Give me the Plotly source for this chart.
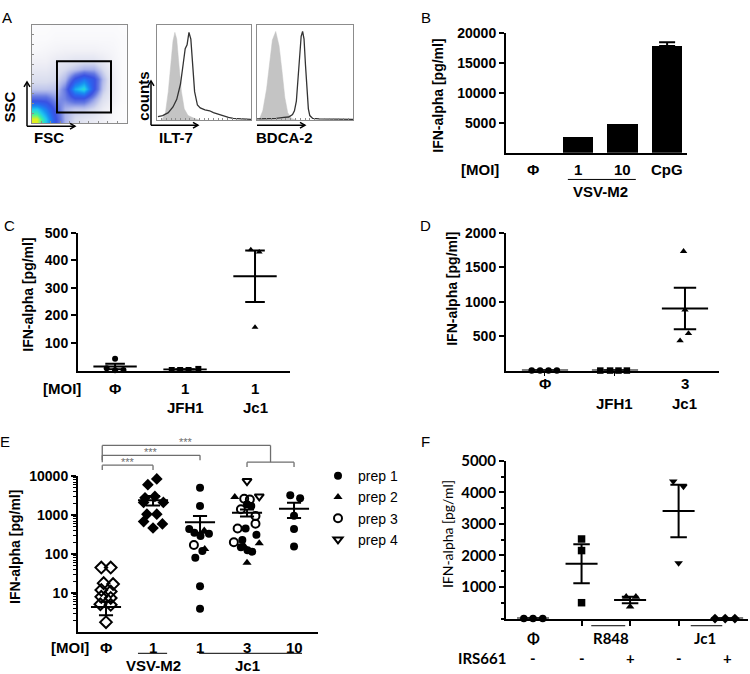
import plotly.graph_objects as go

W, H = 750, 674
FONT = "Liberation Sans"
FONT_F = "Lato"

def fx(p):
    return p / W

def fy(p):
    return 1 - p / H

def dom_x(a, b):
    return [a / W, b / W]

def dom_y(top, bottom):
    return [1 - bottom / H, 1 - top / H]

# ---------------- DATA ----------------
# Panel A: FSC/SSC density (rows bottom->top), gate, histograms (% of max)
dens_x = [0.5, 1.5, 2.5, 3.5, 4.5, 5.5, 6.5, 7.5, 8.5, 9.5]
dens_y = [0.5, 1.5, 2.5, 3.5, 4.5, 5.5, 6.5, 7.5, 8.5, 9.5]
dens_z = [
    [10, 8, 5, 3, 2, 1.6, 1.3, 1, 0.6, 0.4],
    [8, 6.5, 4.5, 3, 2.5, 2.5, 2, 1.2, 0.7, 0.4],
    [4.5, 4.5, 3.5, 3.8, 4.8, 4.8, 3.3, 1.8, 1, 0.5],
    [2.5, 2.5, 2.6, 4, 7.5, 8.5, 5.2, 2.5, 1.1, 0.5],
    [1.8, 1.8, 2, 2.8, 5.2, 6.3, 5.2, 2.8, 1.1, 0.5],
    [1.3, 1.3, 1.6, 2, 2.5, 3, 3, 2, 1, 0.5],
    [0.9, 0.9, 1.2, 1.3, 1.5, 1.5, 1.5, 1.2, 0.8, 0.5],
    [0.6, 0.7, 0.8, 0.9, 0.9, 0.9, 0.9, 0.8, 0.7, 0.5],
    [0.5, 0.5, 0.6, 0.6, 0.6, 0.6, 0.6, 0.6, 0.6, 0.5],
    [0.4, 0.4, 0.5, 0.5, 0.5, 0.5, 0.5, 0.5, 0.5, 0.4],
]
gate_x = [2.66, 8.35]
gate_y = [1.1, 6.3]

ilt7_iso_x = [5, 9, 12, 15, 17, 19, 21, 23, 26, 29, 33, 40, 46]
ilt7_iso_y = [0, 8, 30, 62, 83, 92, 85, 62, 30, 12, 5, 2, 0]
ilt7_x = [1, 6, 12, 17, 21, 25, 28, 30, 32, 34, 36, 38, 40, 43, 46, 51, 56, 60, 66, 70, 76, 81, 88, 96, 100]
ilt7_y = [4, 5, 8, 14, 22, 38, 60, 75, 79, 92, 85, 60, 30, 16, 13, 11, 10, 8, 6, 5, 3, 2, 1.5, 1, 1]
bdca2_iso_x = [2, 6, 10, 13, 16, 19.5, 23, 26, 29, 32, 36, 42]
bdca2_iso_y = [0, 10, 33, 60, 84, 93, 78, 52, 24, 8, 2, 0]
bdca2_x = [0, 10, 20, 28, 33, 37, 39, 41, 43, 44.5, 46, 47.5, 49, 50.5, 52, 53.5, 55, 58, 65, 80, 100]
bdca2_y = [1.5, 1.5, 2, 3, 3.5, 6, 10, 20, 45, 70, 88, 93, 85, 58, 30, 12, 5, 2, 1.5, 1, 1]

# Panel B
b_labels = ["Φ", "1", "10", "CpG"]
b_values = [0, 2750, 4900, 17800]
b_err = [0, 0, 0, 600]
b_yticks = [5000, 10000, 15000, 20000]

# Panel C (MOI 1)
c_labels = ["Φ", "1", "1"]
c_groups = ["", "JFH1", "Jc1"]
c_off = [[0, -0.12, 0, 0.12], [-0.19, -0.07, 0.05, 0.19], [-0.06, 0.06, 0]]
c_val = [[43, 8, 1, 2], [2, 2, 2, 6], [438, 430, 157]]
c_sym = ["circle", "square", "triangle-up"]
c_mean = [15, 3.5, 342]
c_sem = [10, 1.2, 93]
c_yticks = [100, 200, 300, 400, 500]

# Panel D (MOI 3)
d_labels = ["Φ", "", "3"]
d_groups = ["", "JFH1", "Jc1"]
d_off = [[-0.19, -0.07, 0.05, 0.17], [-0.21, -0.07, 0.05, 0.17], [-0.02, 0, 0.05, -0.07]]
d_val = [[0, 0, 0, 0], [0, 0, 0, 0], [1730, 880, 538, 433]]
d_sym = ["circle", "square", "triangle-up"]
d_mean = [0, 0, 900]
d_sem = [0, 0, 300]
d_yticks = [500, 1000, 1500, 2000]

# Panel E (log)
e_labels = ["Φ", "1", "1", "3", "10"]
e_mock_off = [-0.1, 0.1, -0.05, 0.15, -0.1, 0.1, -0.1, 0.1, -0.12, 0.1, 0]
e_mock_val = [45, 45, 18, 17, 12, 11, 8, 7.5, 5.2, 5, 1.8]
e_vsv_off = [-0.11, 0.08, -0.17, 0.04, -0.2, 0.22, -0.13, 0.08, -0.2, 0.2, 0]
e_vsv_val = [6000, 8400, 2750, 3000, 2100, 2100, 1050, 1050, 680, 590, 465]
# Jc1 points: group index, offset, value, prep number
e_jc1_grp = [2, 2, 2, 2, 2, 2, 2, 2, 2, 2, 2, 2, 2,
             3, 3, 3, 3, 3, 3, 3, 3, 3, 3, 3, 3, 3, 3, 3, 3, 3, 3, 3, 3, 3,
             4, 4, 4, 4, 4]
e_jc1_off = [0, 0, -0.23, -0.12, 0.09, 0.19, 0.01, -0.13, 0.1, 0.05, -0.1, 0, 0,
             0, -0.26, -0.06, 0.06, 0.26, 0, 0.09, -0.13, 0.18, -0.2, -0.03, 0.18, 0.2, -0.28, -0.1, 0.26, -0.13, -0.06, 0.01, 0.11, 0,
             -0.08, 0.13, 0, 0, 0]
e_jc1_val = [5000, 1700, 440, 350, 400, 330, 290, 170, 135, 120, 80, 15, 4,
             7400, 2900, 2600, 2500, 3000, 1900, 1700, 1400, 950, 450, 450, 600, 310, 200, 230, 190, 150, 160, 125, 115, 60,
             3200, 2700, 960, 440, 155]
e_jc1_prep = [1, 1, 1, 1, 2, 1, 1, 3, 2, 1, 1, 1, 1,
              4, 2, 3, 3, 4, 1, 1, 3, 3, 3, 1, 3, 1, 3, 1, 2, 1, 2, 1, 1, 2,
              1, 1, 1, 1, 1]
e_mean = [4.4, 2400, 650, 1150, 1450]
e_sem = [1.7, 650, 300, 230, 610]
e_yticks = [10, 100, 1000, 10000]
prep_names = ["prep 1", "prep 2", "prep 3", "prep 4"]
prep_symbols = ["circle", "triangle-up", "circle-open", "triangle-down-open"]

# Panel F
f_labels = ["-", "-", "+", "-", "+"]
f_off = [[-0.19, 0, 0.2], [0, 0, 0], [-0.08, 0.12, 0], [-0.11, 0.1, 0], [-0.25, -0.04, 0.16]]
f_val = [[0, 0, 0], [2523, 2156, 502], [690, 690, 377], [4353, 4186, 1758], [0, 0, 0]]
f_sym = ["circle", "square", "triangle-up", "triangle-down", "diamond"]
f_mean = [0, 1740, 590, 3410, 0]
f_sem = [0, 620, 105, 830, 0]
f_yticks = [1000, 2000, 3000, 4000, 5000]

# ---------------- FIGURE ----------------
fig = go.Figure()
shapes = []
ann = []

def mean_sem(centers, means, sems, mw, cw, xa, ya):
    xs, ys = [], []
    for c, m, s in zip(centers, means, sems):
        xs += [c - mw, c + mw, None, c, c, None, c - cw, c + cw, None, c - cw, c + cw, None]
        ys += [m, m, None, m - s, m + s, None, m + s, m + s, None, m - s, m - s, None]
    return go.Scatter(x=xs, y=ys, mode="lines", line=dict(color="black", width=2),
                      xaxis=xa, yaxis=ya, showlegend=False, hoverinfo="skip", cliponaxis=False)

def text(x, y, s, xref="paper", size=14, bold=True, angle=0, family=FONT, color="black", xanchor="center"):
    ann.append(dict(x=x, y=y, xref=xref, yref="paper", text=s, showarrow=False, textangle=angle,
                    xanchor=xanchor, yanchor="middle",
                    font=dict(family=family, size=size, color=color, weight="bold" if bold else "normal")))

def pline(x0, y0, x1, y1, xref="paper", color="black", width=1.5):
    shapes.append(dict(type="line", xref=xref, yref="paper", x0=x0, y0=y0, x1=x1, y1=y1,
                       line=dict(color=color, width=width)))

def arrow(x0, y0, x1, y1):
    pline(fx(x0), fy(y0), fx(x1), fy(y1), width=1.5)
    if x0 == x1:
        pts = [(x1 - 3, y1 + 5), (x1, y1), (x1 + 3, y1 + 5)]
    else:
        pts = [(x1 - 5, y1 - 3), (x1, y1), (x1 - 5, y1 + 3)]
    path = "M {} {} L {} {} L {} {}".format(fx(pts[0][0]), fy(pts[0][1]), fx(pts[1][0]), fy(pts[1][1]),
                                            fx(pts[2][0]), fy(pts[2][1]))
    shapes.append(dict(type="path", xref="paper", yref="paper", path=path, line=dict(color="black", width=1.5)))

# ---- Panel A ----
colorscale = [[0, "#ffffff"], [0.05, "#fafafc"], [0.1, "#f0f0f6"], [0.2, "#d8dcee"], [0.3, "#a8b2ea"],
              [0.4, "#6478e2"], [0.5, "#3a52e2"], [0.6, "#2a66f0"], [0.7, "#1890f0"], [0.8, "#20c8f0"],
              [0.9, "#40f0a0"], [1, "#e0f020"]]
fig.add_trace(go.Heatmap(x=dens_x, y=dens_y, z=dens_z, zmin=0, zmax=10, zsmooth="best",
                         colorscale=colorscale, showscale=False, xaxis="x", yaxis="y", hoverinfo="skip"))
shapes.append(dict(type="rect", xref="x", yref="y", x0=gate_x[0], x1=gate_x[1], y0=gate_y[0], y1=gate_y[1],
                   line=dict(color="black", width=2)))
fig.add_trace(go.Scatter(x=ilt7_iso_x, y=ilt7_iso_y, mode="lines", fill="tozeroy", fillcolor="#c4c4c4",
                         line=dict(color="#c4c4c4", width=0.5), xaxis="x2", yaxis="y2", showlegend=False))
fig.add_trace(go.Scatter(x=ilt7_x, y=ilt7_y, mode="lines", line=dict(color="#333333", width=1.3),
                         xaxis="x2", yaxis="y2", showlegend=False))
fig.add_trace(go.Scatter(x=bdca2_iso_x, y=bdca2_iso_y, mode="lines", fill="tozeroy", fillcolor="#c4c4c4",
                         line=dict(color="#c4c4c4", width=0.5), xaxis="x3", yaxis="y3", showlegend=False))
fig.add_trace(go.Scatter(x=bdca2_x, y=bdca2_y, mode="lines", line=dict(color="#333333", width=1.3),
                         xaxis="x3", yaxis="y3", showlegend=False))

frame = dict(showline=True, mirror=True, linecolor="#8c8c8c", linewidth=1, showgrid=False, zeroline=False,
             ticks="inside", ticklen=2, tickcolor="#8c8c8c", showticklabels=False, fixedrange=True)
layout_axes = {}
layout_axes["xaxis"] = dict(frame, domain=dom_x(31.7, 126.7), range=[0, 10], dtick=1, anchor="y")
layout_axes["yaxis"] = dict(frame, domain=dom_y(15, 115), range=[0, 10], dtick=1, anchor="x")
layout_axes["xaxis2"] = dict(frame, domain=dom_x(157, 251), range=[0, 100], dtick=5, anchor="y2")
layout_axes["yaxis2"] = dict(frame, domain=dom_y(15, 112), range=[0, 100], ticks="", anchor="x2")
layout_axes["xaxis3"] = dict(frame, domain=dom_x(257, 353), range=[0, 100], dtick=5, anchor="y3")
layout_axes["yaxis3"] = dict(frame, domain=dom_y(15, 112), range=[0, 100], ticks="", anchor="x3")

arrow(27, 118, 27, 73)
arrow(27, 118, 75, 118)
arrow(151, 117, 151, 72)
arrow(151, 117, 198, 117)
arrow(257, 117, 305, 117)
text(fx(10), fy(99), "SSC", angle=-90, size=15)
text(fx(49), fy(129), "FSC", size=15)
text(fx(144), fy(88), "counts", angle=-90, size=15)
text(fx(176), fy(129), "ILT-7", size=15)
text(fx(284), fy(129), "BDCA-2", size=15)

# ---- common axis style ----
def yax(domain, rng, anchor, tickvals, size=14, family=FONT, **kw):
    d = dict(domain=domain, range=rng, anchor=anchor, showline=True, linecolor="black", linewidth=2,
             ticks="outside", ticklen=5, tickwidth=2, tickcolor="black", showgrid=False, zeroline=False,
             tickmode="array", tickvals=tickvals, ticktext=[str(v) for v in tickvals],
             tickfont=dict(family=family, size=size, color="black", weight="bold"),
             fixedrange=True)
    d.update(kw)
    return d

def xax(domain, rng, anchor, **kw):
    d = dict(domain=domain, range=rng, anchor=anchor, showline=True, linecolor="black", linewidth=2,
             ticks="", showticklabels=False, showgrid=False, zeroline=False, fixedrange=True)
    d.update(kw)
    return d

# ---- Panel B ----
b_x = list(range(len(b_values)))
fig.add_trace(go.Bar(x=b_x, y=b_values, width=0.68, marker=dict(color="black", line=dict(width=0)),
                     xaxis="x4", yaxis="y4", showlegend=False))
err_x = [x for x, e in zip(b_x, b_err) if e > 0]
err_y = [v for v, e in zip(b_values, b_err) if e > 0]
err_v = [e for e in b_err if e > 0]
fig.add_trace(go.Scatter(x=err_x, y=err_y, mode="markers", marker=dict(size=1, color="rgba(0,0,0,0)"),
                         error_y=dict(type="data", array=err_v, arrayminus=[0] * len(err_v), symmetric=False,
                                      color="black", thickness=2, width=8),
                         xaxis="x4", yaxis="y4", showlegend=False))
layout_axes["xaxis4"] = xax(dom_x(506, 687), [-0.604, 3.445], "y4")
layout_axes["yaxis4"] = yax(dom_y(23, 145), [0, 20000], "x4", b_yticks)
for i, lab in enumerate(b_labels):
    text(i, fy(162), lab, xref="x4", size=15)
text(fx(480), fy(162), "[MOI]", size=15)
pline(0.78, fy(172), 2.3, fy(172), xref="x4", width=1)
text(1.5, fy(184), "VSV-M2", xref="x4", size=15)
text(fx(438), fy(87), "IFN-alpha [pg/ml]", angle=-90, size=14)
text(fx(426), fy(8), "B", size=15, bold=False)

# ---- Panel C ----
for g in range(len(c_val)):
    fig.add_trace(go.Scatter(x=[g + o for o in c_off[g]], y=c_val[g], mode="markers",
                             marker=dict(symbol=c_sym[g], size=6, color="black"), cliponaxis=False,
                             xaxis="x5", yaxis="y5", showlegend=False))
fig.add_trace(mean_sem(range(3), c_mean, c_sem, 0.31, 0.14, "x5", "y5"))
layout_axes["xaxis5"] = xax(dom_x(78, 290), [-0.53, 2.5], "y5")
layout_axes["yaxis5"] = yax(dom_y(226, 366), [0, 500], "x5", c_yticks)
text(fx(62), fy(384), "[MOI]", size=15)
for i, lab in enumerate(c_labels):
    text(i, fy(384), lab, xref="x5", size=15)
for i, lab in enumerate(c_groups):
    if lab:
        text(i, fy(403), lab, xref="x5", size=15)
text(fx(28), fy(289), "IFN-alpha [pg/ml]", angle=-90, size=14)
text(fx(9), fy(219), "C", size=15, bold=False)

# ---- Panel D ----
for g in range(len(d_val)):
    fig.add_trace(go.Scatter(x=[g + o for o in d_off[g]], y=d_val[g], mode="markers",
                             marker=dict(symbol=d_sym[g], size=6.5, color="black"), cliponaxis=False,
                             xaxis="x6", yaxis="y6", showlegend=False))
fig.add_trace(mean_sem(range(3), d_mean, d_sem, 0.33, 0.16, "x6", "y6"))
layout_axes["xaxis6"] = xax(dom_x(506, 719), [-0.557, 2.486], "y6", ticks="outside", ticklen=3, tickwidth=1,
                            tickcolor="black", tickvals=[0, 1])
layout_axes["yaxis6"] = yax(dom_y(226, 366), [0, 2000], "x6", d_yticks)
for i, lab in enumerate(d_labels):
    if lab:
        text(i, fy(379), lab, xref="x6", size=15)
for i, lab in enumerate(d_groups):
    if lab:
        text(i, fy(399), lab, xref="x6", size=15)
text(fx(452), fy(283), "IFN-alpha [pg/ml]", angle=-90, size=14)
text(fx(426), fy(219), "D", size=15, bold=False)

# ---- Panel E ----
fig.add_trace(go.Scatter(x=[0 + o for o in e_mock_off], y=e_mock_val, mode="markers",
                         marker=dict(symbol="diamond-open", size=9, color="black", line=dict(width=2)),
                         cliponaxis=False, xaxis="x7", yaxis="y7", showlegend=False))
fig.add_trace(go.Scatter(x=[1 + o for o in e_vsv_off], y=e_vsv_val, mode="markers",
                         marker=dict(symbol="diamond", size=9, color="black"),
                         cliponaxis=False, xaxis="x7", yaxis="y7", showlegend=False))
for p in range(4):
    xs = [g + o for g, o, pr in zip(e_jc1_grp, e_jc1_off, e_jc1_prep) if pr == p + 1]
    ys = [v for v, pr in zip(e_jc1_val, e_jc1_prep) if pr == p + 1]
    open_ = "open" in prep_symbols[p]
    fig.add_trace(go.Scatter(x=xs, y=ys, mode="markers", name=prep_names[p],
                             marker=dict(symbol=prep_symbols[p], size=8, color="black",
                                         line=dict(width=2 if open_ else 0, color="black")),
                             cliponaxis=False, xaxis="x7", yaxis="y7", showlegend=True))
fig.add_trace(mean_sem(range(5), e_mean, e_sem, 0.32, 0.15, "x7", "y7"))
minor_vals = [m * 10 ** k for k in range(0, 4) for m in range(2, 10)]
layout_axes["xaxis7"] = xax(dom_x(78, 318), [-0.596, 4.51], "y7")
layout_axes["yaxis7"] = yax(dom_y(473, 631.5), [0, 4], "x7", e_yticks, type="log",
                            minor=dict(ticks="outside", ticklen=3, tickwidth=1, tickcolor="black",
                                       tickmode="array", tickvals=minor_vals))
text(fx(70), fy(647), "[MOI]", size=15)
for i, lab in enumerate(e_labels):
    text(i, fy(647), lab, xref="x7", size=15)
pline(0.68, fy(653), 1.3, fy(653), xref="x7", width=1)
pline(1.98, fy(653), 4.17, fy(653), xref="x7", width=1)
text(1, fy(665), "VSV-M2", xref="x7", size=15)
text(3, fy(665), "Jc1", xref="x7", size=15)
text(fx(15), fy(545), "IFN-alpha [pg/ml]", angle=-90, size=14)
text(fx(5), fy(438), "E", size=15, bold=False)
GR = "#6e6e6e"
def bracket(x0, x1, ytop, drop, label):
    pline(x0, fy(ytop + drop), x0, fy(ytop), xref="x7", color=GR, width=1.3)
    pline(x0, fy(ytop), x1, fy(ytop), xref="x7", color=GR, width=1.3)
    pline(x1, fy(ytop), x1, fy(ytop + drop), xref="x7", color=GR, width=1.3)
    if label:
        text((x0 + x1) / 2, fy(ytop - 3), label, xref="x7", size=11, bold=False, color=GR)
bracket(-0.08, 1, 462, 5, "***")
bracket(-0.08, 2, 452, 5, "***")
bracket(-0.08, 3.5, 442, 17, "***")
bracket(3, 4, 459, 5, "")

# ---- Panel F ----
for g in range(len(f_val)):
    fig.add_trace(go.Scatter(x=[g + o for o in f_off[g]], y=f_val[g], mode="markers",
                             marker=dict(symbol=f_sym[g], size=7.5, color="black"), cliponaxis=False,
                             xaxis="x8", yaxis="y8", showlegend=False))
fig.add_trace(mean_sem(range(5), f_mean, f_sem, 0.33, 0.17, "x8", "y8"))
layout_axes["xaxis8"] = xax(dom_x(506, 748), [-0.557, 4.43], "y8", ticks="outside", ticklen=5, tickwidth=1.5,
                            tickcolor="black", tickvals=[1, 2, 3])
layout_axes["yaxis8"] = yax(dom_y(457.7, 617.7), [0, 5000], "x8", f_yticks,
                            size=15, family=FONT_F,
                            minor=dict(ticks="outside", ticklen=3, tickwidth=1.5, tickcolor="black", dtick=500))
text(0, fy(637), "Φ", xref="x8", size=15, family=FONT_F)
text(1.6, fy(637), "R848", xref="x8", size=15, family=FONT_F)
text(3.55, fy(637), "Jc1", xref="x8", size=15, family=FONT_F)
pline(1.2, fy(625), 1.9, fy(625), xref="x8", width=1)
pline(3.25, fy(625), 3.9, fy(625), xref="x8", width=1)
text(fx(482), fy(658), "IRS661", size=15, family=FONT_F)
for i, lab in enumerate(f_labels):
    text(i, fy(658), lab, xref="x8", size=15, family=FONT_F)
text(fx(447), fy(532), "IFN-alpha [pg/ml]", angle=-90, size=14, bold=False, family=FONT_F)
text(fx(426), fy(438), "F", size=15, bold=False)

text(fx(7), fy(8), "A", size=15, bold=False)

fig.update_layout(
    width=W, height=H, margin=dict(l=0, r=0, t=0, b=0),
    paper_bgcolor="white", plot_bgcolor="white",
    shapes=shapes, annotations=ann,
    legend=dict(x=fx(318), y=fy(457), xanchor="left", yanchor="top", bgcolor="rgba(0,0,0,0)",
                font=dict(family=FONT, size=14, color="black"), tracegroupgap=0, itemwidth=30,
                itemclick=False, itemdoubleclick=False),
    bargap=0, showlegend=True,
    **layout_axes,
)
fig.write_html("out.html", config={"displayModeBar": False},
               post_script="document.body.style.margin='0px';document.body.style.overflow='hidden';")
